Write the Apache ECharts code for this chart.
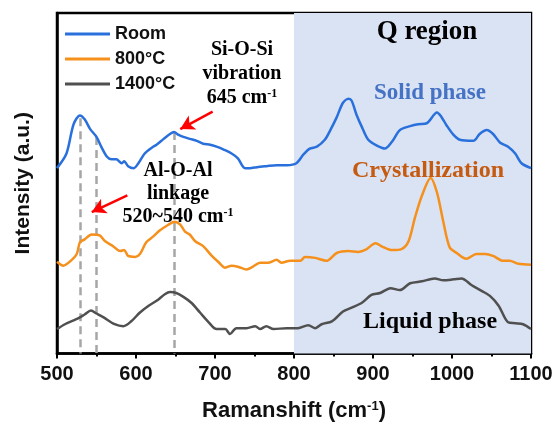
<!DOCTYPE html>
<html><head><meta charset="utf-8">
<script src="https://cdn.jsdelivr.net/npm/echarts@6/dist/echarts.min.js"></script>
<style>html,body{margin:0;padding:0;background:#fff}#c{width:558px;height:427px}</style>
</head><body><div id="c"></div>
<script>
// Wavenumber / intensity (arbitrary offset units)
const roomData = [[500,190],[512,205],[521,235],[529,244],[535,240],[542,230],[550,222],[556,212],[563,202],[569,199],[575,199],[582,195],[585,197],[590,192],[597,190],[603,195],[611,205],[620,211],[626,214],[635,220],[643,225],[648,227],[654,224],[660,222],[668,220],[677,218],[685,215],[694,214],[702,212],[711,209],[721,205],[729,200],[738,190],[744,190],[753,191],[765,192],[778,193],[791,193],[803,195],[812,204],[820,210],[829,212],[839,219],[846,229],[854,242],[862,257],[869,261],[873,259],[879,245],[886,232],[894,219],[905,213],[915,210],[924,217],[934,229],[947,233],[957,235],[968,236],[981,247],[987,242],[993,234],[1002,224],[1010,219],[1027,218],[1035,225],[1044,229],[1052,225],[1061,216],[1071,212],[1080,205],[1088,195],[1100,190]];
const c800Data = [[500,94],[508,90],[516,94],[525,102],[529,114],[535,117],[544,122],[554,121],[561,115],[571,110],[580,105],[585,106],[590,100],[599,99],[605,102],[613,114],[622,120],[630,126],[641,132],[649,135],[656,132],[662,125],[668,122],[675,115],[685,110],[696,100],[704,94],[713,88],[721,90],[729,89],[740,86],[748,89],[757,93],[767,93],[778,96],[784,93],[795,95],[808,95],[814,99],[827,98],[841,95],[854,103],[869,105],[881,104],[892,107],[903,113],[913,109],[924,106],[936,107],[945,115],[953,139],[962,162],[973,180],[981,165],[989,135],[997,109],[1006,103],[1018,97],[1031,102],[1042,102],[1052,100],[1065,95],[1073,95],[1084,92],[1100,91]];
const c1400Data = [[500,25],[510,30],[521,34],[529,37],[535,40],[543,44],[550,41],[559,37],[573,30],[584,28],[594,33],[605,42],[616,49],[626,54],[637,61],[643,63],[651,62],[660,58],[670,52],[681,42],[692,32],[702,25],[713,25],[719,20],[727,26],[740,26],[751,28],[757,25],[765,28],[774,25],[791,26],[805,26],[818,29],[827,26],[835,30],[848,33],[862,43],[873,47],[886,52],[898,60],[909,62],[922,67],[934,65],[947,72],[962,74],[978,77],[989,75],[1002,76],[1012,77],[1025,70],[1038,64],[1048,59],[1059,49],[1071,32],[1080,31],[1090,30],[1100,25]];
const seriesNames = ['Room','800°C','1400°C'];
const xTicks = [500,600,700,800,900,1000,1100];
const qRegion = [800,1100];
// dashed reference lines: [wavenumber, top intensity]
const peakLines = [[530,241],[550,222],[648,227]];
// arrows: [fromX, fromY, toX, toY]
const arrowSiOSi = [697,248,656,230];
const arrowAlOAl = [589,162,544,145];

const serif = '"Liberation Serif","Times New Roman",serif';
const sans = '"Liberation Sans",Arial,sans-serif';
const chart = echarts.init(document.getElementById('c'));
const supRich = (px)=>({s:{font:'bold '+px+'px '+serif,verticalAlign:'top',padding:[0,0,9,0]}});

chart.setOption({
  animation:false,
  grid:{left:57,right:27,top:13,bottom:66,show:true,borderColor:'#000',borderWidth:2.5,backgroundColor:'transparent'},
  legend:{
    orient:'vertical', left:60, top:20, itemWidth:45, itemHeight:3, itemGap:7,
    data:seriesNames.map(n=>({name:n,icon:'rect'})),
    textStyle:{fontFamily:sans,fontWeight:'bold',fontSize:18,color:'#111',lineHeight:18}
  },
  xAxis:{
    type:'value', min:xTicks[0], max:xTicks[xTicks.length-1], interval:100,
    axisLine:{lineStyle:{color:'#000',width:2.5}},
    axisTick:{show:true,length:5,lineStyle:{color:'#000',width:2}},
    minorTick:{show:true,splitNumber:2,length:3,lineStyle:{color:'#000',width:2}},
    splitLine:{show:false},
    axisLabel:{fontFamily:sans,fontWeight:'bold',fontSize:20,color:'#111',margin:11,formatter:v=>String(v)},
    name:'Ramanshift (cm{s|-1})', nameLocation:'middle', nameGap:46,
    nameTextStyle:{fontFamily:sans,fontWeight:'bold',fontSize:22,color:'#111',
      rich:{s:{fontFamily:sans,fontWeight:'bold',fontSize:13,color:'#111',verticalAlign:'top',padding:[0,0,10,0]}}}
  },
  yAxis:{
    type:'value', min:0, max:349,
    axisLine:{show:true,lineStyle:{color:'#000',width:2.5}},
    axisTick:{show:false}, axisLabel:{show:false}, splitLine:{show:false},
    name:'Intensity (a.u.)', nameLocation:'middle', nameGap:23, nameRotate:90,
    nameTextStyle:{fontFamily:sans,fontWeight:'bold',fontSize:21,color:'#111'}
  },
  series:[
    {name:seriesNames[0],type:'line',data:roomData,symbol:'none',smooth:0.3,z:5,
     lineStyle:{color:'#2a70dc',width:2.5},itemStyle:{color:'#2a70dc'},
     markArea:{silent:true,itemStyle:{color:'#dae3f3'},data:[[{xAxis:qRegion[0]},{xAxis:qRegion[1]}]]},
     markLine:{silent:true,symbol:'none',label:{show:false},
       lineStyle:{color:'#a6a6a6',width:2.5,type:[8,5]},
       data:peakLines.map(p=>[{coord:[p[0],p[1]]},{coord:[p[0],0]}])}
    },
    {name:seriesNames[1],type:'line',data:c800Data,symbol:'none',smooth:0.3,z:5,
     lineStyle:{color:'#f5901c',width:2.5},itemStyle:{color:'#f5901c'},
     markLine:{silent:true,symbol:['none','arrow'],symbolSize:[12,14],label:{show:false},
       lineStyle:{color:'#ff0000',width:2.5,type:'solid'},
       data:[arrowSiOSi,arrowAlOAl].map(a=>[{coord:[a[0],a[1]]},{coord:[a[2],a[3]]}])}
    },
    {name:seriesNames[2],type:'line',data:c1400Data,symbol:'none',smooth:0.3,z:5,
     lineStyle:{color:'#505050',width:2.5},itemStyle:{color:'#505050'}}
  ],
  graphic:[
    {type:'text',x:242,y:50,z:100,style:{text:'Si-O-Si',font:'bold 20px '+serif,fill:'#000',align:'center',verticalAlign:'middle'}},
    {type:'text',x:242,y:74,z:100,style:{text:'vibration',font:'bold 20px '+serif,fill:'#000',align:'center',verticalAlign:'middle'}},
    {type:'text',x:242,y:98,z:100,style:{text:'645 cm{s|-1}',font:'bold 20px '+serif,fill:'#000',align:'center',verticalAlign:'middle',rich:supRich(12)}},
    {type:'text',x:178,y:171,z:100,style:{text:'Al-O-Al',font:'bold 20px '+serif,fill:'#000',align:'center',verticalAlign:'middle'}},
    {type:'text',x:178,y:194,z:100,style:{text:'linkage',font:'bold 20px '+serif,fill:'#000',align:'center',verticalAlign:'middle'}},
    {type:'text',x:178,y:217,z:100,style:{text:'520~540 cm{s|-1}',font:'bold 20px '+serif,fill:'#000',align:'center',verticalAlign:'middle',rich:supRich(12)}},
    {type:'text',x:427,y:32,z:100,style:{text:'Q region',font:'bold 27px '+serif,fill:'#000',align:'center',verticalAlign:'middle'}},
    {type:'text',x:430,y:93,z:100,style:{text:'Solid phase',font:'bold 23px '+serif,fill:'#4472c4',align:'center',verticalAlign:'middle'}},
    {type:'text',x:428,y:171,z:100,style:{text:'Crystallization',font:'bold 24px '+serif,fill:'#c55a11',align:'center',verticalAlign:'middle'}},
    {type:'text',x:430,y:322,z:100,style:{text:'Liquid phase',font:'bold 24px '+serif,fill:'#000',align:'center',verticalAlign:'middle'}}
  ]
});
</script></body></html>
